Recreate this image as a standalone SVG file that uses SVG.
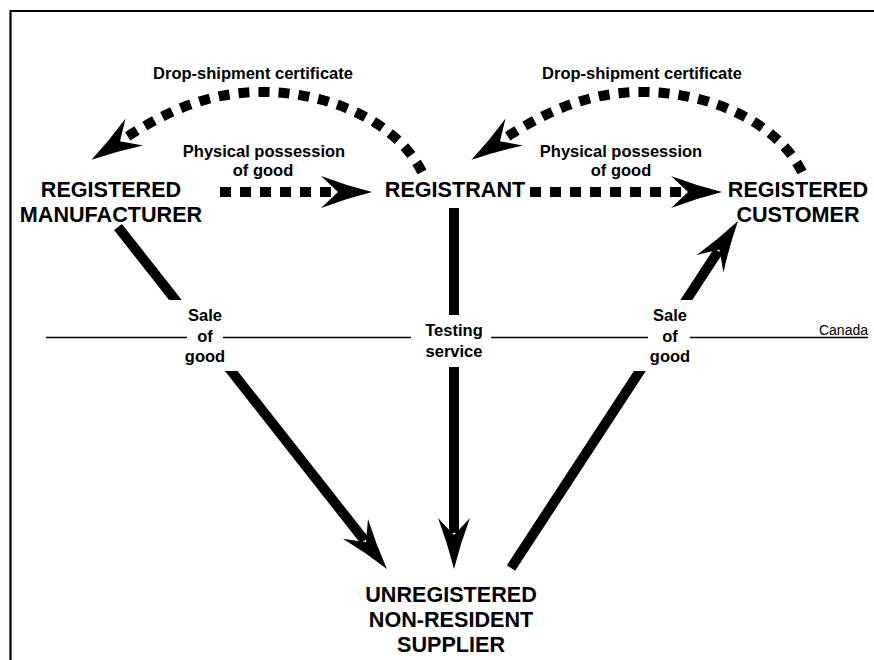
<svg xmlns="http://www.w3.org/2000/svg" width="874" height="660" viewBox="0 0 874 660">
<style>
text{font-family:"Liberation Sans",Arial,Helvetica,sans-serif;fill:#000;text-anchor:middle}
.big{font-size:21.6px;font-weight:bold}
.lbl{font-size:16.5px;font-weight:bold}
.small{font-size:14px;text-anchor:end}
.solid{fill:none;stroke:#000;stroke-width:10;stroke-linecap:butt}
.dash{fill:none;stroke:#000;stroke-width:10;stroke-dasharray:11 9;stroke-linecap:butt}
.thin{fill:none;stroke:#000;stroke-width:1.3}
.mask{fill:#fff}
</style>
<defs>
<marker id="ah" markerUnits="userSpaceOnUse" markerWidth="60" markerHeight="40" viewBox="-20 -20 60 40" refX="0" refY="0" orient="auto" overflow="visible">
<path d="M36,0 Q10,-6.5 -15,-16 L2,0 L-15,16 Q10,6.5 36,0 Z" fill="#000" stroke="none"/>
</marker>
</defs>
<rect x="0" y="0" width="874" height="660" fill="#fff"/>
<path d="M10.5,660 L10.5,11 L874,11" fill="none" stroke="#000" stroke-width="2.2"/>

<g id="connectors">
<path class="dash" d="M422,172 C397,122 330,92 262,92 C205,92 162,114 121.7,140.2" marker-end="url(#ah)"/>
<path class="dash" d="M802,172 C777,122 710,92 642,92 C585,92 542,114 501.7,140.2" marker-end="url(#ah)"/>
<path class="dash" d="M220,192 L336,192" marker-end="url(#ah)"/>
<path class="dash" d="M530,192 L686,192" marker-end="url(#ah)"/>
<path class="solid" d="M454,208 L454,533" marker-end="url(#ah)"/>
<path class="solid" d="M118,227 L364.7,540.7" marker-end="url(#ah)"/>
<path class="solid" d="M511,568 L718.3,251.1" marker-end="url(#ah)"/>
</g>

<g id="label-masks">
<rect class="mask" x="160" y="300" width="90" height="71"/>
<rect class="mask" x="625" y="300" width="90" height="71"/>
<rect class="mask" x="420" y="315" width="70" height="52"/>
</g>

<g id="border-line">
<path class="thin" d="M46,337.5 H187 M223,337.5 H411 M491,337.5 H648 M690,337.5 H868"/>
<text class="small" x="868" y="335">Canada</text>
</g>

<g id="connector-labels">
<text class="lbl" x="253" y="79">Drop-shipment certificate</text>
<text class="lbl" x="642" y="79">Drop-shipment certificate</text>
<text class="lbl" x="264" y="157">Physical possession</text>
<text class="lbl" x="263" y="176">of good</text>
<text class="lbl" x="621" y="157">Physical possession</text>
<text class="lbl" x="621" y="176">of good</text>
<text class="lbl" x="205" y="321">Sale</text>
<text class="lbl" x="205" y="342">of</text>
<text class="lbl" x="205" y="362">good</text>
<text class="lbl" x="454" y="336">Testing</text>
<text class="lbl" x="454" y="357">service</text>
<text class="lbl" x="670" y="321">Sale</text>
<text class="lbl" x="670" y="342">of</text>
<text class="lbl" x="670" y="362">good</text>
</g>

<g id="registered-manufacturer">
<text class="big" x="111" y="197">REGISTERED</text>
<text class="big" x="111" y="222">MANUFACTURER</text>
</g>
<g id="registrant">
<text class="big" x="455" y="197">REGISTRANT</text>
</g>
<g id="registered-customer">
<text class="big" x="798" y="197">REGISTERED</text>
<text class="big" x="798" y="222">CUSTOMER</text>
</g>
<g id="unregistered-non-resident-supplier">
<text class="big" x="451" y="602">UNREGISTERED</text>
<text class="big" x="451" y="627">NON-RESIDENT</text>
<text class="big" x="451" y="652">SUPPLIER</text>
</g>
</svg>
